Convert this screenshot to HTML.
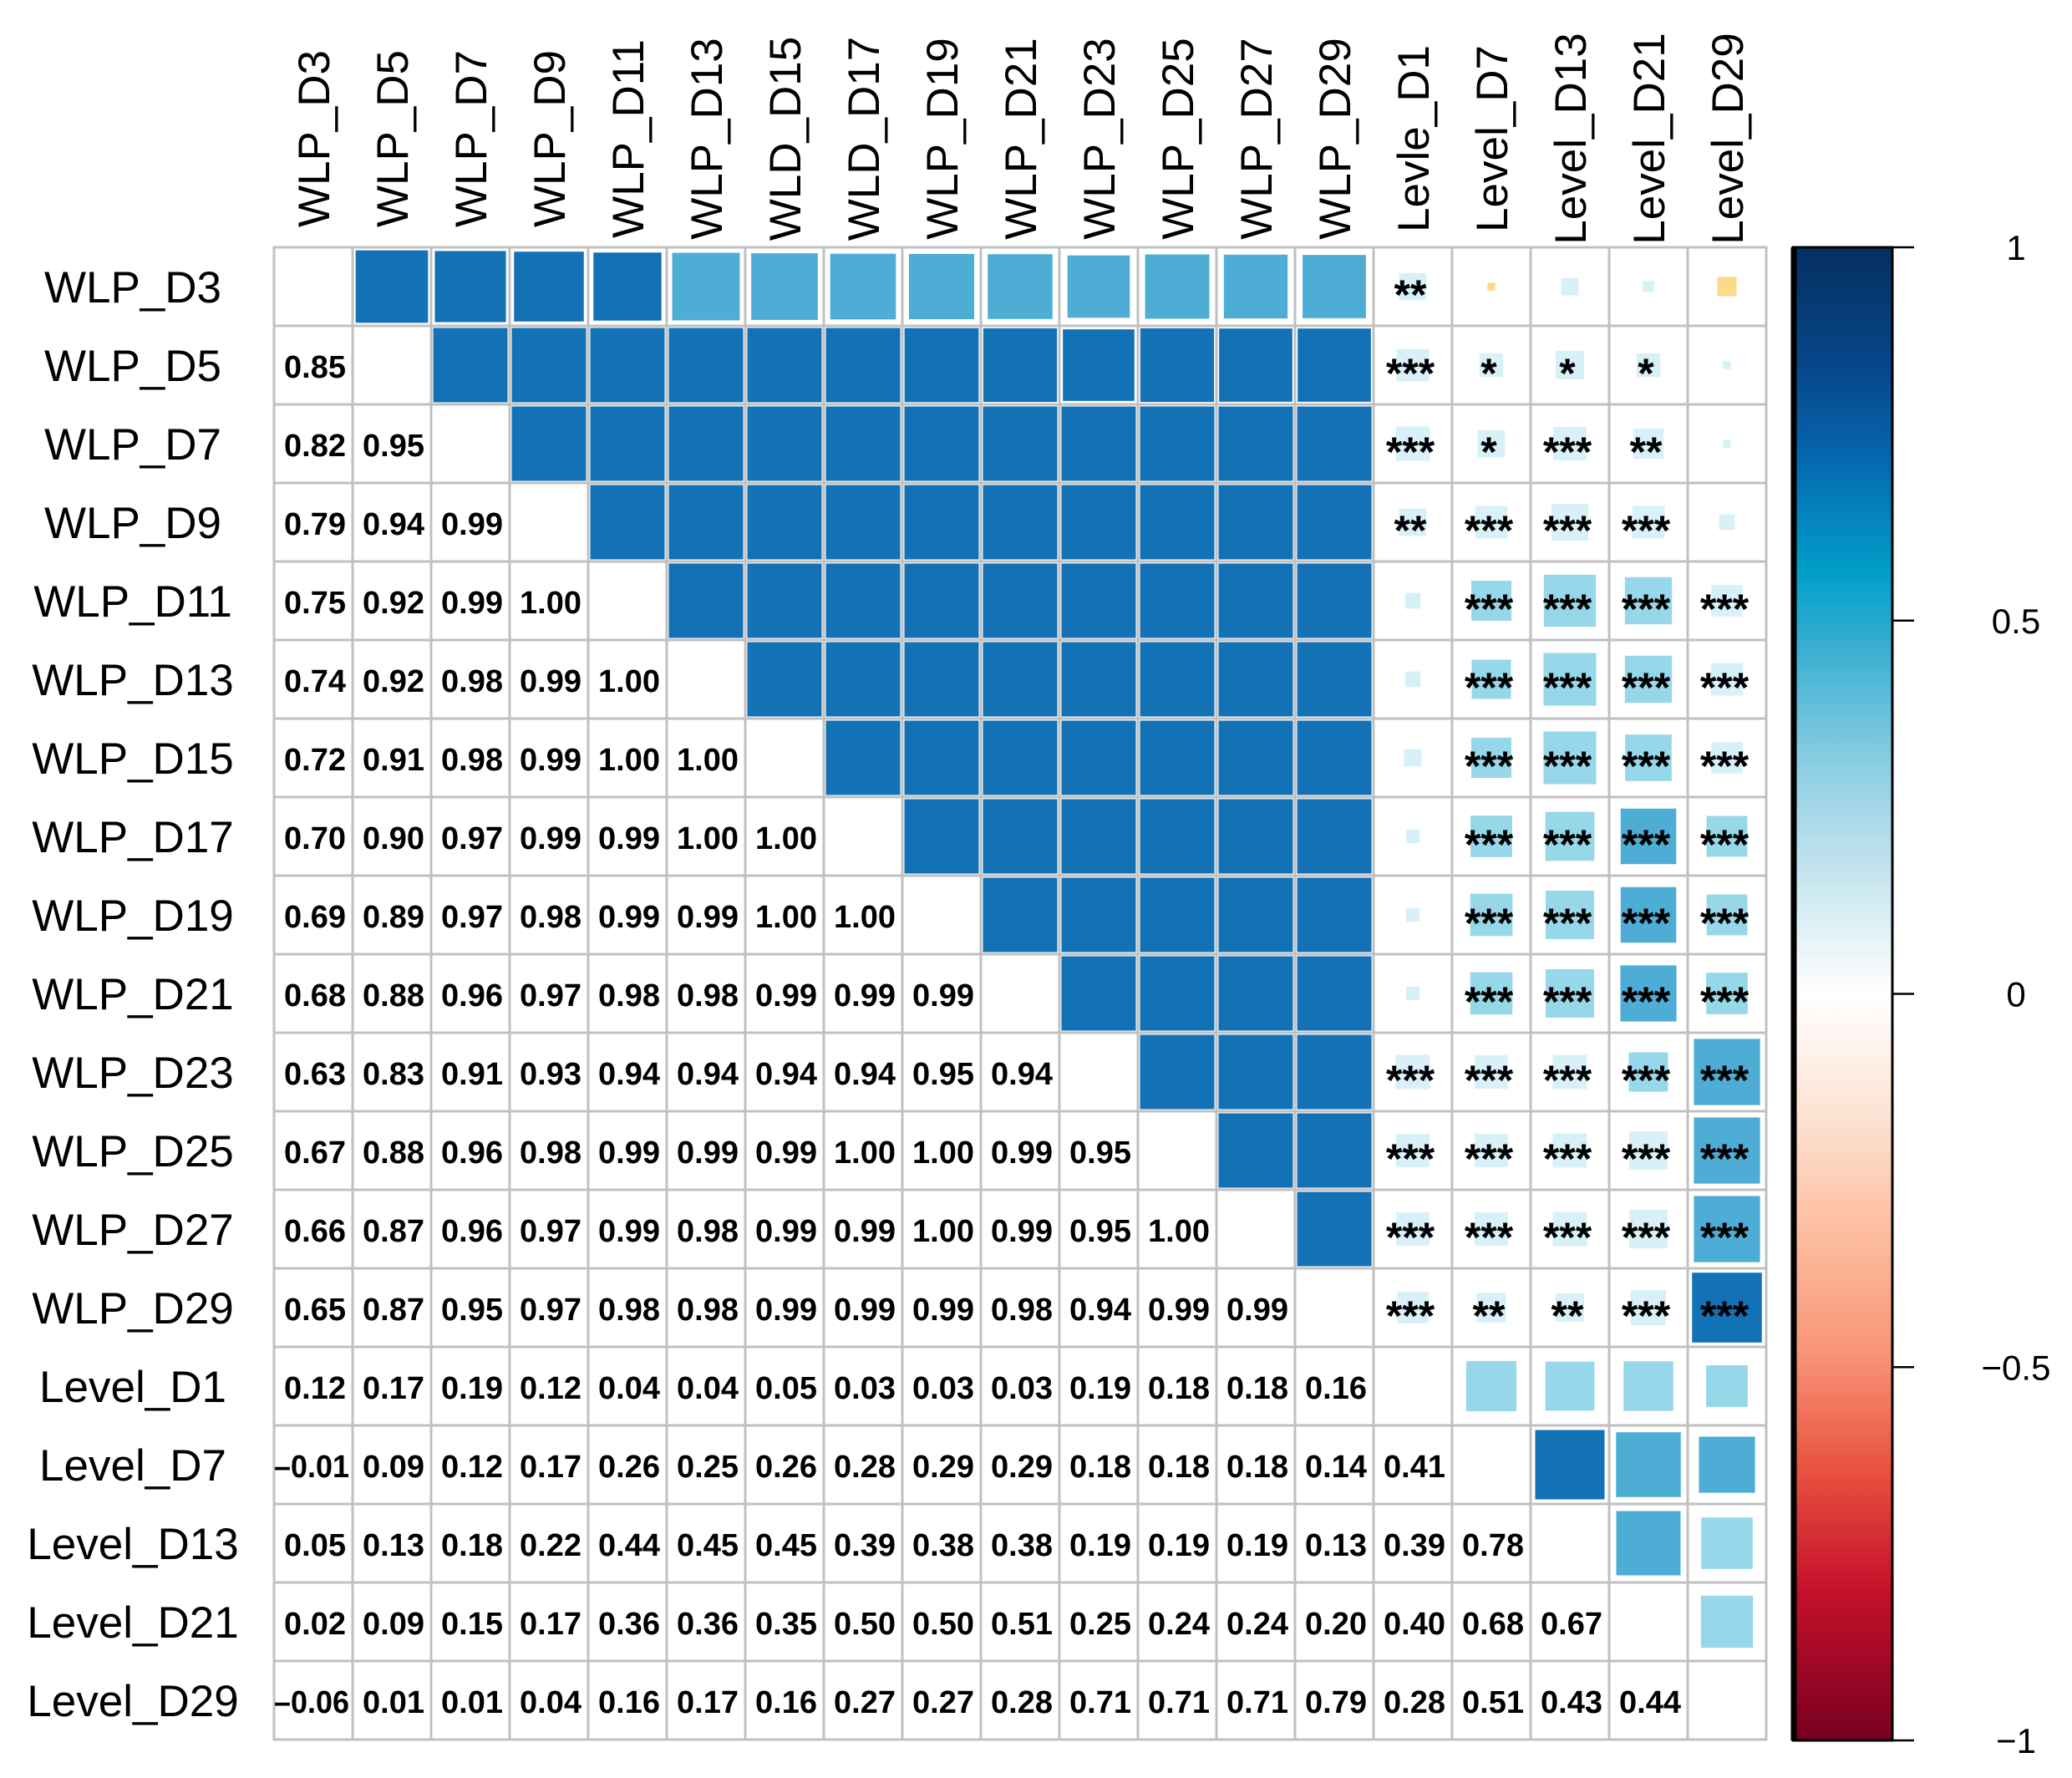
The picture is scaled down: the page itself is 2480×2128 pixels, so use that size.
<!DOCTYPE html>
<html><head><meta charset="utf-8"><title>Correlation matrix</title>
<style>html,body{margin:0;padding:0;background:#fff}svg{display:block}</style></head>
<body>
<svg id="chart" xmlns="http://www.w3.org/2000/svg" width="2480" height="2128" viewBox="0 0 2480 2128">
<defs>
<linearGradient id="cbar" x1="0" y1="0" x2="0" y2="1">
<stop offset="0" stop-color="#053061"/>
<stop offset="0.08" stop-color="#07468a"/>
<stop offset="0.14" stop-color="#0566ae"/>
<stop offset="0.22" stop-color="#02a0ca"/>
<stop offset="0.26" stop-color="#31abd0"/>
<stop offset="0.34" stop-color="#86cbe1"/>
<stop offset="0.42" stop-color="#c6e5ef"/>
<stop offset="0.5" stop-color="#ffffff"/>
<stop offset="0.58" stop-color="#fde3d4"/>
<stop offset="0.66" stop-color="#fdbd9f"/>
<stop offset="0.74" stop-color="#f99577"/>
<stop offset="0.82" stop-color="#e8513f"/>
<stop offset="0.9" stop-color="#c5102a"/>
<stop offset="1" stop-color="#780020"/>
</linearGradient>
</defs>
<g id="grid-layer"></g>
<g id="colorbar"></g>
</svg>
<script>
const rowLabels = ["WLP_D3","WLP_D5","WLP_D7","WLP_D9","WLP_D11","WLP_D13","WLP_D15","WLP_D17","WLP_D19","WLP_D21","WLP_D23","WLP_D25","WLP_D27","WLP_D29","Level_D1","Level_D7","Level_D13","Level_D21","Level_D29"];
const colLabels = ["WLP_D3","WLP_D5","WLP_D7","WLP_D9","WLP_D11","WLP_D13","WLD_D15","WLD_D17","WLP_D19","WLP_D21","WLP_D23","WLP_D25","WLP_D27","WLP_D29","Levle_D1","Level_D7","Level_D13","Level_D21","Level_D29"];
// lower-triangle correlations, row i has i values
const lowerValues = [
[],
[0.85],
[0.82,0.95],
[0.79,0.94,0.99],
[0.75,0.92,0.99,1.00],
[0.74,0.92,0.98,0.99,1.00],
[0.72,0.91,0.98,0.99,1.00,1.00],
[0.70,0.90,0.97,0.99,0.99,1.00,1.00],
[0.69,0.89,0.97,0.98,0.99,0.99,1.00,1.00],
[0.68,0.88,0.96,0.97,0.98,0.98,0.99,0.99,0.99],
[0.63,0.83,0.91,0.93,0.94,0.94,0.94,0.94,0.95,0.94],
[0.67,0.88,0.96,0.98,0.99,0.99,0.99,1.00,1.00,0.99,0.95],
[0.66,0.87,0.96,0.97,0.99,0.98,0.99,0.99,1.00,0.99,0.95,1.00],
[0.65,0.87,0.95,0.97,0.98,0.98,0.99,0.99,0.99,0.98,0.94,0.99,0.99],
[0.12,0.17,0.19,0.12,0.04,0.04,0.05,0.03,0.03,0.03,0.19,0.18,0.18,0.16],
[-0.01,0.09,0.12,0.17,0.26,0.25,0.26,0.28,0.29,0.29,0.18,0.18,0.18,0.14,0.41],
[0.05,0.13,0.18,0.22,0.44,0.45,0.45,0.39,0.38,0.38,0.19,0.19,0.19,0.13,0.39,0.78],
[0.02,0.09,0.15,0.17,0.36,0.36,0.35,0.50,0.50,0.51,0.25,0.24,0.24,0.20,0.40,0.68,0.67],
[-0.06,0.01,0.01,0.04,0.16,0.17,0.16,0.27,0.27,0.28,0.71,0.71,0.71,0.79,0.28,0.51,0.43,0.44]
];
// significance stars for rows WLP_D3..WLP_D29 x columns Level_D1..Level_D29
const starLevels = [
["**","","","",""],
["***","*","*","*",""],
["***","*","***","**",""],
["**","***","***","***",""],
["","***","***","***","***"],
["","***","***","***","***"],
["","***","***","***","***"],
["","***","***","***","***"],
["","***","***","***","***"],
["","***","***","***","***"],
["***","***","***","***","***"],
["***","***","***","***","***"],
["***","***","***","***","***"],
["***","**","**","***","***"]
];
const legendTicks = [1,0.5,0,-0.5,-1];
const legendTickLabels = ["1","0.5","0","\u22120.5","\u22121"];
const binColors = ["#8b0a26","#d6604d","#f4a582","#fdd98a","#d8f0f8","#97d7ea","#4dadd5","#1371b6"];

const NS="http://www.w3.org/2000/svg";
const X0=328, Y0=296, CELL=94, N=rowLabels.length;
const xPos = j => X0 + j*CELL;
const yPos = i => Y0 + i*CELL;
const corr = (i,j) => i>j ? lowerValues[i][j] : lowerValues[j][i];
function colorFor(v){let b=Math.floor((v+1)/0.25+1e-9);if(b>7)b=7;if(b<0)b=0;return binColors[b];}
function mk(tag,attrs,parent){const e=document.createElementNS(NS,tag);for(const k in attrs)e.setAttribute(k,attrs[k]);parent.appendChild(e);return e;}
const g=document.getElementById('grid-layer');

// cell backgrounds + grid
for(let i=0;i<N;i++)for(let j=0;j<N;j++){
  const r=mk('rect',{x:xPos(j),y:yPos(i),width:CELL,height:CELL,fill:'#fff',stroke:'#c0c0c0','stroke-width':3},g);
  
  
}
// upper squares
for(let i=0;i<N;i++)for(let j=i+1;j<N;j++){
  const v=corr(i,j);
  let s=Math.sqrt(Math.abs(v))*CELL; if(s>CELL-5)s=CELL-5;
  const cx=xPos(j)+CELL/2, cy=yPos(i)+CELL/2;
  const sq=mk('rect',{x:cx-s/2,y:cy-s/2,width:s,height:s,fill:colorFor(v)},g);
  
  
}
// stars
for(let i=0;i<starLevels.length;i++)for(let k=0;k<starLevels[i].length;k++){
  const st=starLevels[i][k]; if(!st)continue;
  const j=14+k;
  const t=mk('text',{x:xPos(j)+CELL/2-3,y:yPos(i)+CELL/2+27,'text-anchor':'middle','font-family':'Liberation Sans, sans-serif','font-size':50,'font-weight':'bold',fill:'#000'},g);
  t.textContent=st;
  
  
}
// lower numbers
for(let i=1;i<N;i++)for(let j=0;j<i;j++){
  const v=lowerValues[i][j];
  const txt=(v<0?'\u2013':'')+Math.abs(v).toFixed(2);
  const a={x:xPos(j)+CELL/2+2,y:yPos(i)+CELL/2+15,'text-anchor':'middle','font-family':'Liberation Sans, sans-serif','font-size':38,'font-weight':'bold',fill:'#000'};
  if(v<0){a.textLength=90;a.lengthAdjust='spacingAndGlyphs';a.x=xPos(j)+CELL/2-2;}
  const t=mk('text',a,g);
  t.textContent=txt;
  
  
}
// row labels
rowLabels.forEach((l,i)=>{
  const t=mk('text',{x:159,y:yPos(i)+CELL/2+19,'text-anchor':'middle','font-family':'Liberation Sans, sans-serif','font-size':53,fill:'#000'},g);
  t.textContent=l;
  
  
});
// column labels
colLabels.forEach((l,j)=>{
  const x=xPos(j)+CELL/2+19, y=166;
  const t=mk('text',{x:x,y:y,transform:'rotate(-90 '+x+' '+y+')','text-anchor':'middle','font-family':'Liberation Sans, sans-serif','font-size':53,fill:'#000'},g);
  t.textContent=l;
  
  
});
// color bar
const cb=document.getElementById('colorbar');
const CB_X=2146, CB_W=119, CB_TOP=296, CB_BOT=2083;
const yLegend = v => CB_TOP + (1-v)/2*(CB_BOT-CB_TOP);
const bar=mk('rect',{x:CB_X,y:CB_TOP,width:CB_W,height:CB_BOT-CB_TOP,fill:'url(#cbar)',stroke:'#000','stroke-width':3},cb);


mk('line',{x1:CB_X+1,y1:CB_TOP,x2:CB_X+1,y2:CB_BOT,stroke:'#000','stroke-width':7},cb);
legendTicks.forEach((v,k)=>{
  const y=yLegend(v);
  const ln=mk('line',{x1:CB_X+CB_W,y1:y,x2:2291,y2:y,stroke:'#000','stroke-width':2.5},cb);
  
  
  const t=mk('text',{x:2413,y:y+15,'text-anchor':'middle','font-family':'Liberation Sans, sans-serif','font-size':42,fill:'#000'},cb);
  t.textContent=legendTickLabels[k];
  
  
});
</script>
</body></html>
